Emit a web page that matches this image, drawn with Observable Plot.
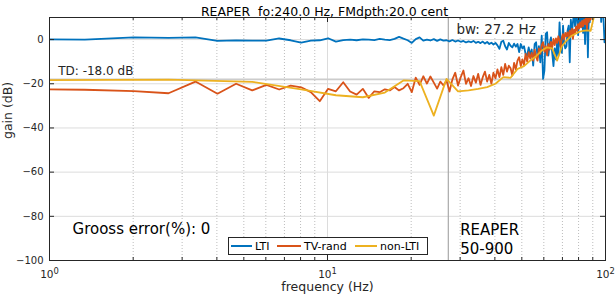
<!DOCTYPE html>
<html><head><meta charset="utf-8">
<script src="https://cdn.jsdelivr.net/npm/d3@7"></script>
<script src="https://cdn.jsdelivr.net/npm/@observablehq/plot@0.6"></script>
<style>html,body{margin:0;padding:0;background:#fff}</style>
</head><body><div id="chart"></div>
<script>
// ---- data ----
const df = 0.67; // frequency bin spacing in Hz (bin k is at k*df)
const lti = [0.3,0.0,1.0,0.8,1.0,-0.6,-0.4,-0.5,-0.5,0.5,-0.3,-1.4,-0.5,-0.3,0.6,-0.9,-0.2,0.0,-0.3,0.1,
  0.0,-0.2,0.3,0.0,-0.2,0.3,1.2,0.4,-0.3,-1.5,0.2,1.0,-0.5,0.0,-0.4,0.2,-0.6,0.1,-0.5,-0.3,
  -0.8,-0.2,-0.9,-0.4,-1.0,-0.6,-1.3,-0.8,-1.2,-0.6,-1.5,-1.0,-1.6,-0.9,-1.8,-1.1,-2.0,-1.4,-2.2,-1.5,
  -2.6,-4.2,-1.0,-0.5,-3.0,-4.5,-1.5,-2.8,-3.5,-1.8,-3.2,-2.0,-5.7,-2.0,-4.0,-3.0,-6.5,-7.2,-3.5,-7.0,
  -4.5,-11.8,-2.0,-1.2,-8.0,-3.0,-10.3,1.8,-17.8,-14.0,2.6,3.3,-7.2,-2.0,1.0,-6.0,-12.0,-4.0,-9.0,-1.0,
  -7.5,7.8,-3.0,-6.0,6.3,-2.0,-4.0,-3.0,4.0,6.3,-10.3,9.0,3.0,8.0,12.0,6.0,14.0,9.0,2.0,11.0,
  6.0,15.0,10.0,3.0,13.0,-2.0,9.0,14.0,-8.0,12.0,7.8,16.0,11.0,18.0,13.0,20.0,12.0,17.0,14.0,19.0,
  15.0,12.0,18.0,8.0,16.0,14.0,7.8,-1.2,4.0];
const tvRand = [-22.4,-22.7,-23.3,-24.3,-19.0,-24.5,-20.0,-23.0,-20.5,-22.6,-20.8,-21.6,-23.8,-27.9,-22.3,-23.4,-19.3,-23.5,-24.9,-22.3,
  -26.4,-23.4,-23.8,-22.5,-23.0,-21.5,-23.0,-22.0,-20.0,-23.8,-17.2,-20.5,-16.6,-19.9,-16.7,-19.5,-22.2,-19.0,-20.8,-18.5,
  -23.5,-18.0,-15.0,-20.8,-17.0,-14.0,-20.0,-17.5,-21.0,-16.5,-19.5,-15.5,-20.5,-17.0,-14.5,-19.0,-16.0,-20.0,-15.0,-17.5,
  -13.5,-17.0,-12.5,-16.0,-11.0,-14.5,-11.8,-13.0,-16.3,-10.5,-13.5,-9.5,-8.0,-12.0,-9.0,-11.5,-6.5,-10.0,-5.7,-8.5,
  -6.0,-9.5,-4.5,-8.0,-9.5,-4.0,-6.5,-2.5,-1.2,-5.5,-3.0,-7.2,-2.0,-4.5,-1.0,-3.5,0.3,-2.5,0.5,-1.5,
  1.5,-0.5,-3.5,1.0,2.5,0.0,3.0,1.5,3.3,1.0,4.0,2.0,5.0,0.3,4.5,3.0,6.0,4.0,7.0,5.0,
  7.8,5.5,8.5,6.0,9.0,7.0,10.0,4.8,9.5,8.0,11.0,9.0,12.0,10.5,13.0,11.0,14.0,12.0,15.0,13.0,
  16.0,12.0,15.0,14.0,17.0,13.0,16.0,14.0,15.0];
const nonLtiFreq = [0.67,2.68,5.36,8.04,10.72,13.4,16.08,18.76,21.44,24.12,26.8,29.48,32.16,34.84,37.52,40.2,42.88,45.56,48.24,50.92,
  53.6,56.28,58.96,61.64,64.32,67.0,69.68,72.36,75.04,77.72,80.4,83.08,85.76,88.44,91.12,93.8,96.48,99.16];
const nonLti = [-18.5,-18.1,-19.1,-22.5,-25.2,-26.1,-24.0,-18.5,-18.8,-34.4,-17.8,-23.4,-23.0,-22.3,-21.5,-20.0,-17.0,-17.3,-13.3,-12.0,
  -9.5,-7.5,-5.0,-3.5,-4.0,-9.5,-3.0,-0.5,1.5,2.5,3.5,4.0,4.2,4.0,11.0,14.0,16.0,17.0];
const seriesNames = ["LTI", "TV-rand", "non-LTI"];
const seriesColors = ["#0072BD", "#D95319", "#EDB120"];
const yTicks = [-100, -80, -60, -40, -20, 0];
const xMajor = [1, 10, 100];
const xMinor = [2, 3, 4, 5, 6, 7, 8, 9, 20, 30, 40, 50, 60, 70, 80, 90];
const tdLevel = -18.0;
const bandwidth = 27.2;
const grossError = 0;
const titleText = "REAPER  fo:240.0 Hz, FMdpth:20.0 cent";
const methodText = ["REAPER", "50-900"];

// ---- tables ----
const ltiData = lti.map((g, i) => ({f: (i + 1) * df, g}));
const tvData = tvRand.map((g, i) => ({f: (i + 1) * df, g}));
const nlData = nonLti.map((g, i) => ({f: nonLtiFreq[i], g}));

const W = 615, H = 300, mL = 49, mR = 10, mT = 17, mB = 40;
const pw = W - mL - mR, ph = H - mT - mB;
const ink = "#262626";
const bwLabel = `bw: ${bandwidth.toFixed(1)} Hz`;

const chart = Plot.plot({
  width: W, height: H,
  marginLeft: mL, marginRight: mR, marginTop: mT, marginBottom: mB,
  style: {fontFamily: "'DejaVu Sans', sans-serif", fontSize: "10px", color: ink, background: "#fff"},
  x: {type: "log", domain: [1, 100]},
  y: {domain: [-100, 10]},
  marks: [
    Plot.ruleY(yTicks, {stroke: "#dcdcdc", strokeWidth: 1}),
    Plot.ruleX(xMinor, {stroke: "#bdbdbd", strokeWidth: 1, strokeDasharray: "1,2"}),
    Plot.ruleX([10], {stroke: "#dcdcdc", strokeWidth: 1}),
    Plot.ruleY([tdLevel], {stroke: "#cccccc", strokeWidth: 1.6}),
    Plot.ruleX([bandwidth], {stroke: "#a9a9a9", strokeWidth: 1.2}),
    Plot.line(ltiData, {x: "f", y: "g", stroke: seriesColors[0], strokeWidth: 1.8, clip: true}),
    Plot.line(tvData, {x: "f", y: "g", stroke: seriesColors[1], strokeWidth: 1.8, clip: true}),
    Plot.line(nlData, {x: "f", y: "g", stroke: seriesColors[2], strokeWidth: 1.8, clip: true}),
    // inward ticks (MATLAB box style)
    Plot.tickY(yTicks, {insetRight: pw - 5, stroke: ink}),
    Plot.tickY(yTicks, {insetLeft: pw - 5, stroke: ink}),
    Plot.tickX(xMajor, {insetTop: ph - 5, stroke: ink}),
    Plot.tickX(xMajor, {insetBottom: ph - 5, stroke: ink}),
    Plot.tickX(xMinor, {insetTop: ph - 3, stroke: ink}),
    Plot.tickX(xMinor, {insetBottom: ph - 3, stroke: ink}),
    Plot.frame({stroke: ink, strokeWidth: 1}),
    Plot.axisY(yTicks, {anchor: "left", tickSize: 0, tickPadding: 6, fontSize: 10, label: null}),
    Plot.axisX(xMajor, {anchor: "bottom", tickSize: 0, tickPadding: 10, fontSize: 10.5, label: null,
      tickFormat: d => "10^" + Math.round(Math.log10(d))}),
    Plot.text(["frequency (Hz)"], {frameAnchor: "bottom", dy: 30, fontSize: 12.5, fill: ink}),
    Plot.text(["gain (dB)"], {frameAnchor: "left", dx: -42, rotate: -90, fontSize: 12.5, fill: ink}),
    Plot.text([titleText], {frameAnchor: "top", dx: -3, dy: -10.5, fontSize: 12.5, fill: "#000"}),
    Plot.text([{f: 1.075, g: -14.1, t: `TD: ${tdLevel.toFixed(1)} dB`}], {x: "f", y: "g", text: "t", textAnchor: "start", fontSize: 12, fill: ink}),
    Plot.text([{f: 29.1, g: 4.7, t: bwLabel}], {x: "f", y: "g", text: "t", textAnchor: "start", fontSize: 13.5, fill: ink}),
    Plot.text([{f: 1.21, g: -85.6, t: `Grooss error(%): ${grossError}`}], {x: "f", y: "g", text: "t", textAnchor: "start", fontSize: 15, fill: "#000"}),
    Plot.text([{f: 30.0, g: -86.5, t: methodText[0]}, {f: 30.0, g: -95.1, t: methodText[1]}], {x: "f", y: "g", text: "t", textAnchor: "start", fontSize: 15, fill: "#000"})
  ]
});
document.getElementById("chart").append(chart);

const svg = d3.select(chart);
// superscript exponents on the x tick labels (10^n)
svg.selectAll("text").filter(function () { return /^10\^\d$/.test(this.textContent); }).each(function () {
  const e = this.textContent.split("^")[1];
  const t = d3.select(this);
  t.text("10");
  t.append("tspan").attr("dy", "-0.5em").attr("font-size", "0.8em").text(e);
});
// white background behind the bw label
svg.selectAll("text").filter(function () { return this.textContent === bwLabel; }).each(function () {
  const b = this.getBBox();
  const r = document.createElementNS("http://www.w3.org/2000/svg", "rect");
  r.setAttribute("x", b.x - 3); r.setAttribute("y", b.y - 1);
  r.setAttribute("width", b.width + 6); r.setAttribute("height", b.height + 2);
  r.setAttribute("fill", "#fff");
  if (this.getAttribute("transform")) r.setAttribute("transform", this.getAttribute("transform"));
  this.parentNode.insertBefore(r, this);
});

// legend box
const lg = svg.append("g").attr("font-family", "'DejaVu Sans', sans-serif").attr("font-size", 11).attr("text-anchor", "start");
lg.append("rect").attr("x", 228.5).attr("y", 237.5).attr("width", 199).attr("height", 17)
  .attr("fill", "#fff").attr("stroke", ink).attr("stroke-width", 1);
const items = [[231, 252, 255], [277, 301, 304], [355, 377, 380]];
seriesNames.forEach((name, i) => {
  const [a, b, t] = items[i];
  lg.append("line").attr("x1", a).attr("x2", b).attr("y1", 246).attr("y2", 246)
    .attr("stroke", seriesColors[i]).attr("stroke-width", 2);
  lg.append("text").attr("x", t).attr("y", 250).attr("fill", "#000").text(name);
});
</script></body></html>
